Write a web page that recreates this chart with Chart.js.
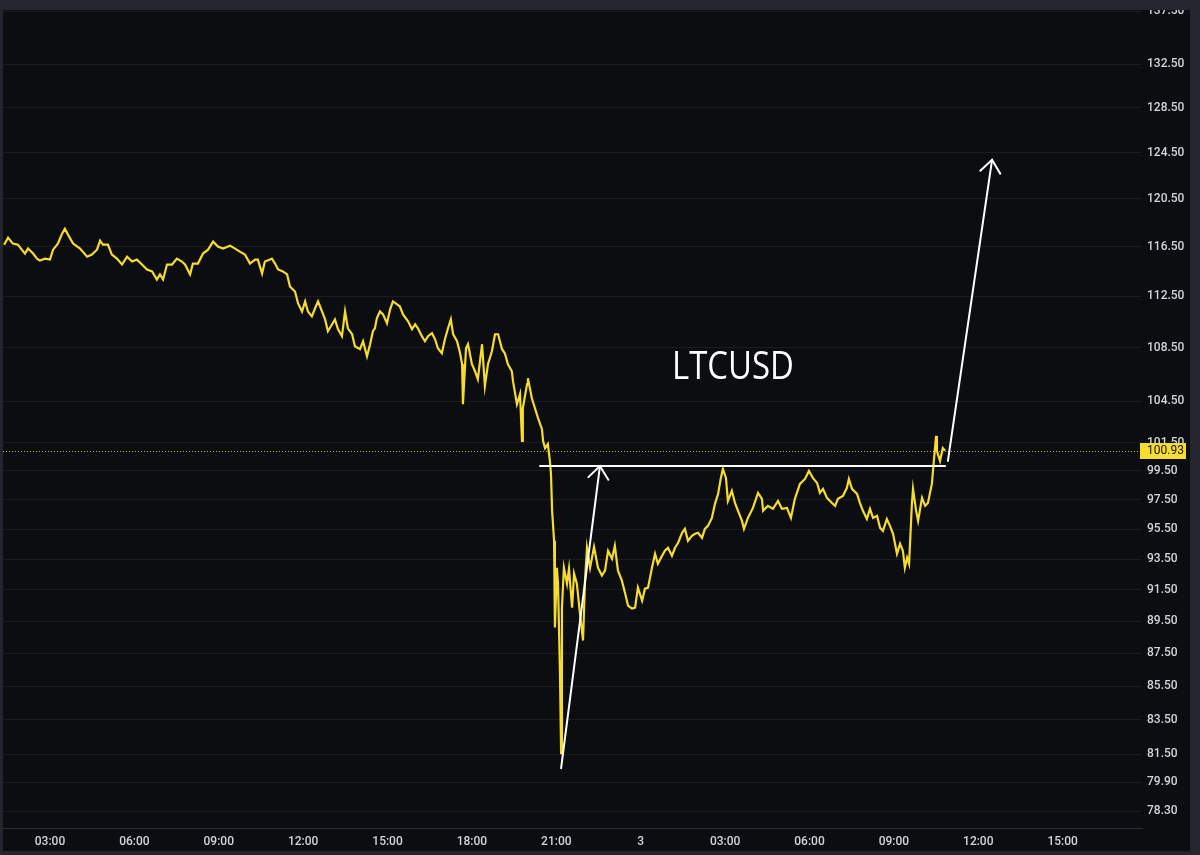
<!DOCTYPE html>
<html>
<head>
<meta charset="utf-8">
<script src="https://cdn.jsdelivr.net/npm/chart.js@4.4.1/dist/chart.umd.min.js"></script>
<style>
  html, body { margin: 0; padding: 0; background: #23262d; }
  canvas { display: block; }
</style>
</head>
<body>
<canvas id="chart" width="1200" height="855"></canvas>
<script>
// hours since 00:00 on day 2 (24 = "3", i.e. midnight of day 3)
const hours = [
  1.37, 1.51, 1.68, 1.86, 2.11, 2.22, 2.40, 2.54, 2.64, 2.82,
  3.00, 3.11, 3.28, 3.43, 3.53, 3.64, 3.82, 4.07, 4.32, 4.49,
  4.67, 4.78, 4.88, 5.06, 5.20, 5.38, 5.56, 5.74, 5.92, 6.09,
  6.27, 6.45, 6.63, 6.80, 6.91, 7.02, 7.16, 7.34, 7.51, 7.69,
  7.80, 7.98, 8.08, 8.26, 8.44, 8.62, 8.80, 8.97, 9.15, 9.40,
  9.58, 9.75, 9.93, 10.11, 10.29, 10.39, 10.54, 10.64, 10.82, 10.89,
  11.00, 11.11, 11.28, 11.43, 11.53, 11.71, 11.82, 11.96, 12.07, 12.17,
  12.31, 12.42, 12.53, 12.67, 12.78, 12.88, 13.03, 13.13, 13.24, 13.38,
  13.49, 13.59, 13.74, 13.84, 14.02, 14.13, 14.27, 14.38, 14.48, 14.55,
  14.62, 14.73, 14.84, 14.98, 15.09, 15.19, 15.34, 15.44, 15.55, 15.73,
  15.87, 15.98, 16.08, 16.22, 16.33, 16.44, 16.58, 16.69, 16.79, 16.93,
  17.04, 17.15, 17.25, 17.33, 17.47, 17.58, 17.65, 17.68, 17.79, 17.86,
  18.00, 18.11, 18.21, 18.36, 18.46, 18.57, 18.71, 18.82, 18.93, 19.07,
  19.17, 19.28, 19.42, 19.46, 19.60, 19.71, 19.78, 19.81, 19.96, 19.99,
  20.13, 20.24, 20.35, 20.49, 20.53, 20.60, 20.70, 20.77, 20.81, 20.85,
  20.92, 20.95, 21.02, 21.06, 21.13, 21.17, 21.20, 21.27, 21.38, 21.45,
  21.56, 21.63, 21.73, 21.84, 21.95, 22.02, 22.09, 22.20, 22.34, 22.48,
  22.62, 22.73, 22.84, 22.98, 23.08, 23.19, 23.33, 23.44, 23.55, 23.69,
  23.80, 23.90, 24.05, 24.15, 24.26, 24.40, 24.51, 24.61, 24.76, 24.86,
  24.97, 25.11, 25.22, 25.33, 25.47, 25.57, 25.68, 25.82, 25.93, 26.04,
  26.18, 26.28, 26.39, 26.53, 26.64, 26.75, 26.85, 26.92, 27.03, 27.10,
  27.24, 27.35, 27.46, 27.60, 27.67, 27.81, 27.99, 28.17, 28.31, 28.35,
  28.52, 28.70, 28.88, 29.02, 29.20, 29.34, 29.48, 29.66, 29.84, 29.98,
  30.12, 30.27, 30.37, 30.48, 30.62, 30.80, 30.91, 31.01, 31.19, 31.33,
  31.40, 31.51, 31.69, 31.79, 31.90, 32.04, 32.15, 32.26, 32.40, 32.51,
  32.61, 32.75, 32.86, 32.97, 33.11, 33.22, 33.32, 33.39, 33.47, 33.54,
  33.64, 33.68, 33.79, 33.86, 34.00, 34.11, 34.21, 34.35, 34.43, 34.50,
  34.53, 34.64, 34.74, 34.82
];

const prices = [
  116.68, 117.26, 116.77, 116.68, 115.95, 116.36, 115.95, 115.54, 115.38, 115.54,
  115.46, 116.27, 116.77, 117.59, 118.00, 117.51, 116.77, 116.36, 115.70, 115.87,
  116.27, 117.01, 116.68, 116.68, 115.87, 115.54, 115.06, 115.70, 115.30, 115.46,
  115.06, 114.66, 114.50, 113.85, 114.26, 113.85, 115.06, 115.06, 115.54, 115.30,
  115.06, 114.26, 115.14, 115.14, 115.95, 116.27, 116.93, 116.52, 116.36, 116.60,
  116.36, 116.11, 115.87, 115.14, 115.46, 115.46, 114.34, 115.30, 115.46, 115.54,
  115.14, 114.66, 114.50, 114.26, 113.29, 112.89, 111.95, 111.32, 112.11, 111.32,
  110.94, 111.55, 112.11, 111.32, 110.70, 109.78, 110.32, 110.70, 109.93, 109.40,
  111.32, 110.01, 109.55, 108.63, 108.40, 109.01, 107.86, 108.78, 109.78, 110.01,
  110.78, 111.32, 111.09, 110.40, 111.47, 112.11, 111.87, 111.71, 111.09, 110.55,
  109.93, 110.32, 110.01, 109.40, 109.01, 109.40, 109.63, 109.16, 108.47, 108.09,
  109.16, 110.01, 110.70, 109.55, 109.01, 108.09, 107.26, 104.28, 108.47, 108.78,
  107.26, 106.73, 106.14, 108.78, 105.62, 107.26, 108.24, 109.55, 109.55, 108.40,
  108.09, 107.26, 106.73, 105.99, 104.28, 105.03, 101.62, 103.99, 105.77, 106.21,
  104.72, 103.99, 103.27, 102.47, 101.62, 101.11, 101.40, 100.20, 99.29, 96.74,
  94.72, 89.11, 92.94, 91.91, 86.28, 81.57, 90.37, 92.94, 91.91, 92.88,
  90.37, 92.56, 91.91, 89.99, 88.30, 92.10, 94.26, 92.94, 94.32, 92.94,
  92.43, 92.75, 94.06, 93.53, 94.39, 92.75, 92.10, 91.32, 90.49, 90.31,
  90.37, 91.65, 90.81, 91.58, 91.65, 92.94, 93.86, 93.20, 93.73, 94.06,
  94.26, 93.73, 94.26, 94.59, 95.26, 95.52, 94.72, 95.05, 95.19, 95.26,
  94.92, 95.52, 95.72, 96.26, 97.22, 97.90, 99.01, 99.64, 99.01, 97.42,
  98.11, 97.28, 96.74, 96.06, 95.52, 96.26, 96.94, 97.97, 97.56, 96.74,
  97.08, 96.88, 97.42, 96.88, 96.94, 96.26, 97.56, 98.59, 98.94, 99.50,
  99.01, 98.66, 97.97, 98.25, 97.63, 97.28, 97.08, 97.56, 97.76, 98.32,
  98.94, 98.25, 97.90, 97.28, 96.74, 96.19, 96.88, 96.26, 96.40, 95.59,
  95.39, 96.19, 95.72, 95.19, 93.86, 94.52, 94.06, 92.94, 93.60, 93.20,
  97.22, 98.25, 96.74, 96.06, 97.63, 97.08, 97.28, 98.59, 100.41, 101.98,
  100.90, 100.20, 101.11, 100.93
];

const yTicks = [78.3, 79.9, 81.5, 83.5, 85.5, 87.5, 89.5, 91.5, 93.5, 95.5, 97.5, 99.5,
  101.5, 104.5, 108.5, 112.5, 116.5, 120.5, 124.5, 128.5, 132.5, 137.5];
const xTicks = [3, 6, 9, 12, 15, 18, 21, 24, 27, 30, 33, 36, 39];
const xTickLabels = ['03:00', '06:00', '09:00', '12:00', '15:00', '18:00', '21:00',
  '3', '03:00', '06:00', '09:00', '12:00', '15:00'];

const lastPrice = 100.93;
const symbol = 'LTCUSD';
const symbolPos = [27.28, 106.13];
// drawn level line and the two arrows (hour, price)
const levelLine = [[20.42, 99.84], [34.82, 99.84]];
const arrowLines = [
  [[21.17, 80.71], [22.55, 99.84]],
  [[34.92, 100.20], [36.49, 123.86]]
];

const BG = '#0c0d10';
const FRAME = '#23262d';
const TEXT = '#d1d4dc';
const YELLOW = '#f5dc2e';

// frame + background
const framePlugin = {
  id: 'frame',
  beforeDraw(chart) {
    const ctx = chart.ctx;
    ctx.save();
    ctx.fillStyle = FRAME;
    ctx.fillRect(0, 0, chart.width, chart.height);
    ctx.fillStyle = BG;
    ctx.fillRect(3, 10, chart.width - 13, chart.height - 14);
    ctx.restore();
  },
  afterDraw(chart) {
    const ctx = chart.ctx;
    ctx.save();
    ctx.fillStyle = FRAME;
    ctx.fillRect(0, 0, chart.width, 10);
    ctx.restore();
  }
};

function arrow(ctx, x1, y1, x2, y2) {
  ctx.beginPath();
  ctx.moveTo(x1, y1);
  ctx.lineTo(x2, y2);
  ctx.stroke();
  const a = Math.atan2(y2 - y1, x2 - x1);
  const len = 16, spread = 0.68;
  ctx.beginPath();
  ctx.moveTo(x2 - len * Math.cos(a - spread), y2 - len * Math.sin(a - spread));
  ctx.lineTo(x2, y2);
  ctx.lineTo(x2 - len * Math.cos(a + spread), y2 - len * Math.sin(a + spread));
  ctx.stroke();
}

const drawingsPlugin = {
  id: 'drawings',
  beforeDatasetsDraw(chart) {
    const { ctx, chartArea, scales: { y } } = chart;
    const py = Math.round(y.getPixelForValue(lastPrice)) + 0.5;
    ctx.save();
    ctx.strokeStyle = '#d2b820';
    ctx.lineWidth = 1;
    ctx.setLineDash([1, 2]);
    ctx.beginPath();
    ctx.moveTo(chartArea.left, py);
    ctx.lineTo(chartArea.right, py);
    ctx.stroke();
    ctx.restore();
  },
  afterDatasetsDraw(chart) {
    const { ctx, scales: { x, y } } = chart;
    const px = p => [x.getPixelForValue(p[0]), y.getPixelForValue(p[1])];
    ctx.save();
    ctx.strokeStyle = '#ffffff';
    ctx.lineWidth = 2;
    ctx.lineCap = 'round';
    const a = px(levelLine[0]), b = px(levelLine[1]);
    ctx.beginPath();
    ctx.moveTo(a[0], a[1]);
    ctx.lineTo(b[0], b[1]);
    ctx.stroke();
    arrowLines.forEach(l => {
      const s = px(l[0]), e = px(l[1]);
      arrow(ctx, s[0], s[1], e[0], e[1]);
    });
    // symbol label, squeezed to the narrow look of the original
    const t = px(symbolPos);
    ctx.fillStyle = '#ffffff';
    ctx.font = '38px "Open Sans", sans-serif';
    ctx.textAlign = 'center';
    ctx.textBaseline = 'alphabetic';
    const w = ctx.measureText(symbol).width;
    ctx.translate(t[0], t[1]);
    ctx.scale(122 / w, 1);
    ctx.fillText(symbol, 0, 0);
    ctx.restore();
  },
  afterDraw(chart) {
    const { ctx, chartArea, scales: { y } } = chart;
    const py = y.getPixelForValue(lastPrice);
    ctx.save();
    ctx.fillStyle = YELLOW;
    ctx.fillRect(chartArea.right - 2, Math.round(py) - 8, 46, 16);
    ctx.fillStyle = '#131313';
    ctx.font = '12px Roboto, sans-serif';
    ctx.textAlign = 'left';
    ctx.textBaseline = 'middle';
    ctx.fillText(lastPrice.toFixed(2), chartArea.right + 5, py);
    ctx.restore();
  }
};

const ctx = document.getElementById('chart').getContext('2d');
new Chart(ctx, {
  type: 'line',
  data: {
    datasets: [{
      data: hours.map((h, i) => ({ x: h, y: prices[i] })),
      borderColor: YELLOW,
      borderWidth: 2.2,
      pointRadius: 0,
      tension: 0,
      fill: false
    }]
  },
  options: {
    responsive: false,
    animation: false,
    devicePixelRatio: 1,
    parsing: false,
    layout: { padding: { left: 3, top: 10, right: 10, bottom: 4 } },
    plugins: { legend: { display: false }, tooltip: { enabled: false } },
    scales: {
      x: {
        type: 'linear',
        min: 1.33,
        max: 41.82,
        afterBuildTicks: s => { s.ticks = xTicks.map(v => ({ value: v })); },
        afterFit: s => { s.height = 23; },
        grid: { display: false, drawTicks: false },
        border: { display: true, color: '#2a2d35' },
        ticks: {
          color: TEXT,
          font: { family: 'Roboto', size: 12, weight: '500' },
          padding: 7,
          maxRotation: 0,
          autoSkip: false,
          callback: (v, i) => xTickLabels[i]
        }
      },
      y: {
        type: 'logarithmic',
        position: 'right',
        min: 77.38,
        max: 137.43,
        afterBuildTicks: s => { s.ticks = yTicks.map(v => ({ value: v })); },
        afterFit: s => { s.width = 48; },
        grid: { color: '#1a1c21', drawTicks: false },
        border: { display: false },
        ticks: {
          color: TEXT,
          font: { family: 'Roboto', size: 12, weight: '500' },
          padding: 5,
          autoSkip: false,
          callback: v => Number(v).toFixed(2)
        }
      }
    }
  },
  plugins: [framePlugin, drawingsPlugin]
});
</script>
</body>
</html>
